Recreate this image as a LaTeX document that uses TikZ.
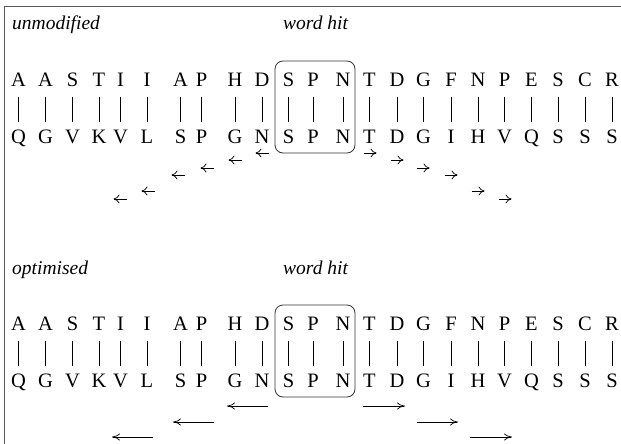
\documentclass[tikz,border=0pt]{standalone}
\usepackage{fontspec}
\setmainfont{Liberation Serif}
\usetikzlibrary{arrows.meta}
\begin{document}
\begin{tikzpicture}[x=1pt,y=-1pt,
  res/.style={font=\fontsize{20.5}{24}\selectfont, inner sep=0pt, anchor=base},
  caption/.style={font=\fontsize{19.5}{23}\selectfont\itshape, inner sep=0pt, anchor=base west},
  pairbar/.style={line width=0.6pt, shorten <=10.5pt, shorten >=21pt},
  hitbox/.style={draw=black!80, line width=0.8pt, rounded corners=8pt, inner sep=0pt},
  tick/.style={line width=0.7pt, -{To[length=6pt,width=9pt]}},
  ext/.style={line width=0.7pt, -{To[length=8pt,width=7pt]}},
  frame/.style={draw=black!65, line width=1.2pt}]
\useasboundingbox (0,0) rectangle (621,444);

% open frame: top and left edges only
\draw[frame] (4.5,444) -- (4.5,6.5) -- (621,6.5);

% two alignment panels, identical apart from the title
\foreach \oy/\p/\cap in {0/u/unmodified, 244/o/optimised} {
  \node[caption] (\p-title) at (12,30+\oy) {\cap};
  \node[caption] (\p-hit) at (283,30+\oy) {word hit};
  \foreach \x/\a/\b [count=\i] in {18.5/A/Q, 45.5/A/G, 72.5/S/V, 99/T/K, 120.5/I/V,
      147/I/L, 180.5/A/S, 201.5/P/P, 235/H/G, 262/D/N, 288.5/S/S, 313/P/P, 343/N/N,
      369.5/T/T, 397/D/D, 423.5/G/G, 451/F/I, 478/N/H, 504.5/P/V, 531.5/E/Q,
      558/S/S, 585/C/S, 612/R/S} {
    \node[res] (\p-t\i) at (\x,86+\oy) {\a};
    \node[res] (\p-b\i) at (\x,143+\oy) {\b};
    \draw[pairbar] (\p-t\i.base) -- (\p-b\i.base);
  }
  \node[hitbox, minimum width=80pt, minimum height=92pt] (\p-box) at (315,107+\oy) {};
}

% unmodified: stepwise extension, one residue at a time
\foreach \x/\y [count=\i] in {262/153, 235/160, 207/168, 178/175, 148/191, 120/199} {
  \coordinate (ul\i s) at (\x+6.5,\y);
  \coordinate (ul\i e) at (\x-6.5,\y);
  \draw[tick] (ul\i s) -- (ul\i e);
}
\foreach \x/\y [count=\i] in {370/153, 397/160, 423/168, 451/175, 478/191, 505/199} {
  \coordinate (ur\i s) at (\x-6.5,\y);
  \coordinate (ur\i e) at (\x+6.5,\y);
  \draw[tick] (ur\i s) -- (ur\i e);
}

% optimised: extension in longer strides
\foreach \xa/\xb/\y [count=\i] in {268/227/406, 214/173/422, 153/112/437} {
  \coordinate (ol\i s) at (\xa,\y);
  \coordinate (ol\i e) at (\xb,\y);
  \draw[ext] (ol\i s) -- (ol\i e);
}
\foreach \xa/\xb/\y [count=\i] in {363/405/406, 417/458/422, 470/512/437} {
  \coordinate (or\i s) at (\xa,\y);
  \coordinate (or\i e) at (\xb,\y);
  \draw[ext] (or\i s) -- (or\i e);
}
\end{tikzpicture}
\end{document}
